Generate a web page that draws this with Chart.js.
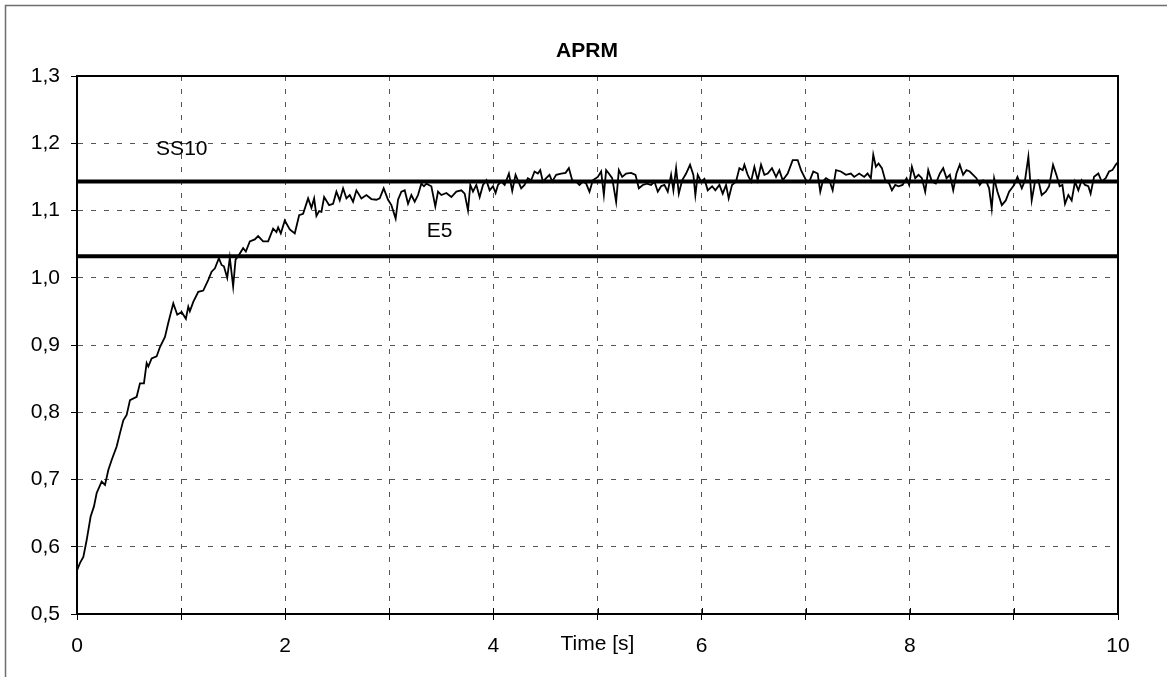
<!DOCTYPE html>
<html>
<head>
<meta charset="utf-8">
<title>APRM</title>
<script src="https://cdn.jsdelivr.net/npm/chart.js@4.4.1/dist/chart.umd.min.js"></script>
<style>
  html, body { margin: 0; padding: 0; background: #fff; }
  #wrap { position: relative; width: 1167px; height: 677px; }
</style>
</head>
<body>
<div id="wrap"><canvas id="aprmChart"></canvas></div>
<script>
// APRM signal, time in seconds
const timeS = [
  0, 0.029, 0.061, 0.093, 0.131, 0.163, 0.189, 0.237, 0.269, 0.301,
  0.333, 0.381, 0.413, 0.445, 0.477, 0.509, 0.573, 0.605, 0.643, 0.669,
  0.685, 0.717, 0.765, 0.797, 0.845, 0.877, 0.925, 0.963, 1.005, 1.046,
  1.069, 1.084, 1.117, 1.165, 1.213, 1.261, 1.293, 1.325, 1.363, 1.389,
  1.411, 1.443, 1.468, 1.5, 1.523, 1.548, 1.596, 1.622, 1.66, 1.708,
  1.74, 1.788, 1.836, 1.884, 1.916, 1.932, 1.958, 1.996, 2.044, 2.092,
  2.134, 2.172, 2.22, 2.252, 2.278, 2.3, 2.326, 2.348, 2.374, 2.422,
  2.46, 2.492, 2.524, 2.556, 2.588, 2.62, 2.652, 2.684, 2.732, 2.78,
  2.828, 2.876, 2.908, 2.946, 2.988, 3.02, 3.061, 3.084, 3.116, 3.148,
  3.18, 3.212, 3.244, 3.276, 3.308, 3.333, 3.356, 3.404, 3.442, 3.468,
  3.5, 3.548, 3.596, 3.644, 3.692, 3.724, 3.756, 3.778, 3.804, 3.836,
  3.868, 3.9, 3.932, 3.964, 3.996, 4.021, 4.044, 4.076, 4.108, 4.149,
  4.181, 4.213, 4.235, 4.267, 4.299, 4.331, 4.363, 4.395, 4.427, 4.45,
  4.475, 4.507, 4.539, 4.565, 4.603, 4.651, 4.693, 4.725, 4.757, 4.795,
  4.827, 4.859, 4.891, 4.923, 4.955, 5.003, 5.035, 5.061, 5.083,
  5.109, 5.141, 5.179, 5.205, 5.237, 5.275, 5.323, 5.365, 5.397, 5.435,
  5.474, 5.515, 5.547, 5.579, 5.611, 5.643, 5.675, 5.707, 5.729, 5.755,
  5.781, 5.813, 5.851, 5.889, 5.921, 5.94, 5.963, 5.995, 6.027, 6.059,
  6.101, 6.132, 6.171, 6.203, 6.235, 6.26, 6.292, 6.331, 6.363, 6.395,
  6.411, 6.443, 6.475, 6.507, 6.539, 6.571, 6.603, 6.635, 6.676, 6.715,
  6.747, 6.779, 6.827, 6.875, 6.923, 6.955, 7.003, 7.035, 7.073, 7.115,
  7.14, 7.163, 7.195, 7.227, 7.259, 7.291, 7.338, 7.386, 7.434, 7.466,
  7.514, 7.562,
  7.594, 7.626, 7.649, 7.674, 7.7, 7.732, 7.764, 7.802, 7.828, 7.86,
  7.892, 7.93, 7.969, 7.994, 8.02, 8.052, 8.084, 8.116, 8.148, 8.177,
  8.212, 8.25, 8.289, 8.321, 8.353, 8.385, 8.417, 8.448, 8.48, 8.512,
  8.544, 8.576, 8.608, 8.64, 8.672, 8.704, 8.736, 8.762, 8.787, 8.81,
  8.842, 8.884, 8.922, 8.954, 9.002, 9.034, 9.076, 9.107, 9.139, 9.171,
  9.203, 9.235, 9.267, 9.306, 9.338, 9.376, 9.408, 9.44, 9.466, 9.491,
  9.523, 9.555, 9.587, 9.619, 9.651, 9.683, 9.715, 9.737, 9.77, 9.811,
  9.843, 9.882, 9.914, 9.946, 9.978, 10
];

const aprm = [
  0.565, 0.576, 0.585, 0.61, 0.645, 0.66, 0.68, 0.697, 0.692, 0.714,
  0.729, 0.749, 0.769, 0.788, 0.796, 0.818, 0.823, 0.843, 0.843, 0.873,
  0.868, 0.88, 0.883, 0.897, 0.912, 0.933, 0.962, 0.945, 0.949, 0.939,
  0.957, 0.95, 0.964, 0.979, 0.981, 0.997, 1.009, 1.014, 1.029, 1.019,
  1.017, 1.0, 1.03, 0.987, 1.027, 1.032, 1.044, 1.039, 1.054, 1.057,
  1.062, 1.054, 1.054, 1.073, 1.068, 1.075, 1.066, 1.085, 1.072, 1.066,
  1.093, 1.095, 1.118, 1.104, 1.118, 1.092, 1.099, 1.098, 1.12, 1.108,
  1.11, 1.128, 1.115, 1.133, 1.118, 1.123, 1.113, 1.13, 1.118, 1.123,
  1.117, 1.116, 1.118, 1.133, 1.116, 1.108, 1.088, 1.116, 1.128, 1.13,
  1.11, 1.123, 1.113, 1.123, 1.14, 1.136, 1.14, 1.136, 1.106, 1.128,
  1.123, 1.126, 1.12, 1.128, 1.13, 1.125, 1.1, 1.138, 1.128, 1.138,
  1.12, 1.138, 1.145, 1.13, 1.136, 1.126, 1.138, 1.143, 1.138, 1.155,
  1.129, 1.153, 1.145, 1.133, 1.138, 1.148, 1.145, 1.158, 1.155, 1.16,
  1.143, 1.148, 1.153, 1.143, 1.153, 1.155, 1.156, 1.163, 1.145, 1.143,
  1.138, 1.143, 1.14, 1.128, 1.145, 1.15, 1.158, 1.123, 1.16,
  1.155, 1.148, 1.113, 1.16, 1.15, 1.155, 1.156, 1.153, 1.133, 1.138,
  1.14, 1.138, 1.143, 1.128, 1.136, 1.138, 1.128, 1.153, 1.13, 1.163,
  1.125, 1.145, 1.155, 1.168, 1.153, 1.123, 1.153, 1.143, 1.147, 1.13,
  1.136, 1.13, 1.138, 1.125, 1.138, 1.118, 1.138, 1.143, 1.163, 1.16,
  1.168, 1.153, 1.143, 1.165, 1.145, 1.168, 1.153, 1.155, 1.163, 1.15,
  1.16, 1.145, 1.155, 1.175, 1.175, 1.16, 1.145, 1.143, 1.158, 1.155,
  1.128, 1.143, 1.148, 1.145, 1.13, 1.16, 1.158, 1.153, 1.155, 1.15,
  1.155, 1.15,
  1.155, 1.148, 1.183, 1.165, 1.17, 1.163, 1.145, 1.14, 1.13, 1.138,
  1.136, 1.138, 1.148, 1.138, 1.165, 1.148, 1.153, 1.148, 1.128, 1.16,
  1.143, 1.14, 1.155, 1.163, 1.148, 1.153, 1.13, 1.155, 1.168, 1.153,
  1.16, 1.158, 1.153, 1.148, 1.138, 1.145, 1.143, 1.133, 1.103, 1.148,
  1.128, 1.108, 1.115, 1.128, 1.138, 1.15, 1.133, 1.145, 1.18, 1.115,
  1.143, 1.145, 1.123, 1.128, 1.136, 1.168, 1.153, 1.136, 1.138, 1.11,
  1.123, 1.115, 1.143, 1.13, 1.145, 1.138, 1.136, 1.125, 1.15, 1.155,
  1.143, 1.148, 1.158, 1.16, 1.168, 1.172
];

// reference levels
const ss10Level = 1.143;
const e5Level = 1.032;

const xLabelled = [0, 2, 4, 6, 8, 10];
const yTickLabels = ['0,5', '0,6', '0,7', '0,8', '0,9', '1,0', '1,1', '1,2', '1,3'];

const lineLabels = [
  { text: 'SS10', x: 0.76, y: 1.1915 },
  { text: 'E5', x: 3.36, y: 1.0695 }
];

const FONT = '"Liberation Sans", Arial, Helvetica, sans-serif';
Chart.defaults.font.family = FONT;
Chart.defaults.font.size = 21;
Chart.defaults.color = '#000';

const framePlugin = {
  id: 'frame',
  beforeDraw(chart) {
    const { ctx } = chart;
    ctx.save();
    ctx.strokeStyle = '#6e6e6e';
    ctx.lineWidth = 1.5;
    ctx.beginPath();
    ctx.moveTo(5.5, chart.height);
    ctx.lineTo(5.5, 5.5);
    ctx.lineTo(chart.width, 5.5);
    ctx.stroke();

    // chart title, a little left of the plot centre
    ctx.fillStyle = '#000';
    ctx.font = 'bold 21px ' + FONT;
    ctx.textAlign = 'center';
    ctx.textBaseline = 'middle';
    ctx.fillText('APRM', 587, 51);
    ctx.restore();
  },
  afterDatasetsDraw(chart) {
    const { ctx, chartArea: a, scales: { x, y } } = chart;
    ctx.save();
    ctx.strokeStyle = '#000';
    ctx.lineWidth = 2;
    ctx.strokeRect(a.left, a.top, a.right - a.left, a.bottom - a.top);

    // x tick marks poke into the plot too
    ctx.lineWidth = 1;
    x.ticks.forEach(t => {
      const px = Math.round(x.getPixelForValue(t.value)) + 0.5;
      ctx.beginPath();
      ctx.moveTo(px, a.bottom - 6);
      ctx.lineTo(px, a.bottom);
      ctx.stroke();
    });

    ctx.fillStyle = '#000';
    ctx.font = '21px ' + FONT;
    ctx.textAlign = 'left';
    ctx.textBaseline = 'middle';
    lineLabels.forEach(l => {
      ctx.fillText(l.text, x.getPixelForValue(l.x), y.getPixelForValue(l.y));
    });
    ctx.restore();
  }
};

const levelLine = (label, level) => ({
  label,
  data: [{ x: 0, y: level }, { x: 10, y: level }],
  borderColor: '#000',
  borderWidth: 4,
  pointRadius: 0
});

new Chart(document.getElementById('aprmChart'), {
  type: 'line',
  data: {
    datasets: [
      levelLine('SS10', ss10Level),
      levelLine('E5', e5Level),
      {
        label: 'APRM',
        data: timeS.map((t, i) => ({ x: t, y: aprm[i] })),
        borderColor: '#000',
        borderWidth: 1.8,
        pointRadius: 0,
        tension: 0
      }
    ]
  },
  options: {
    responsive: true,
    maintainAspectRatio: false,
    animation: false,
    devicePixelRatio: 1,
    layout: { padding: { top: 76, left: 6, right: 49, bottom: 0 } },
    plugins: {
      legend: { display: false },
      tooltip: { enabled: false },
      title: { display: false }
    },
    scales: {
      x: {
        type: 'linear',
        min: 0,
        max: 10,
        afterFit(scale) { scale.height = 63; },
        ticks: {
          stepSize: 1,
          autoSkip: false,
          maxRotation: 0,
          padding: 14,
          callback: v => (xLabelled.includes(v) ? String(v) : '')
        },
        grid: { color: '#555', lineWidth: 1, tickColor: '#000', tickLength: 6 },
        border: { display: true, color: '#000', width: 2, dash: [5, 8] },
        title: { display: true, text: 'Time [s]', padding: { top: 0, bottom: 20.5 } }
      },
      y: {
        min: 0.5,
        max: 1.3,
        afterFit(scale) { scale.width = 71; },
        ticks: {
          stepSize: 0.1,
          autoSkip: false,
          padding: 11,
          callback: (v, i) => yTickLabels[i]
        },
        grid: { color: '#555', lineWidth: 1, tickColor: '#000', tickLength: 6 },
        border: { display: true, color: '#000', width: 2, dash: [5, 8] }
      }
    }
  },
  plugins: [framePlugin]
});
</script>
</body>
</html>
